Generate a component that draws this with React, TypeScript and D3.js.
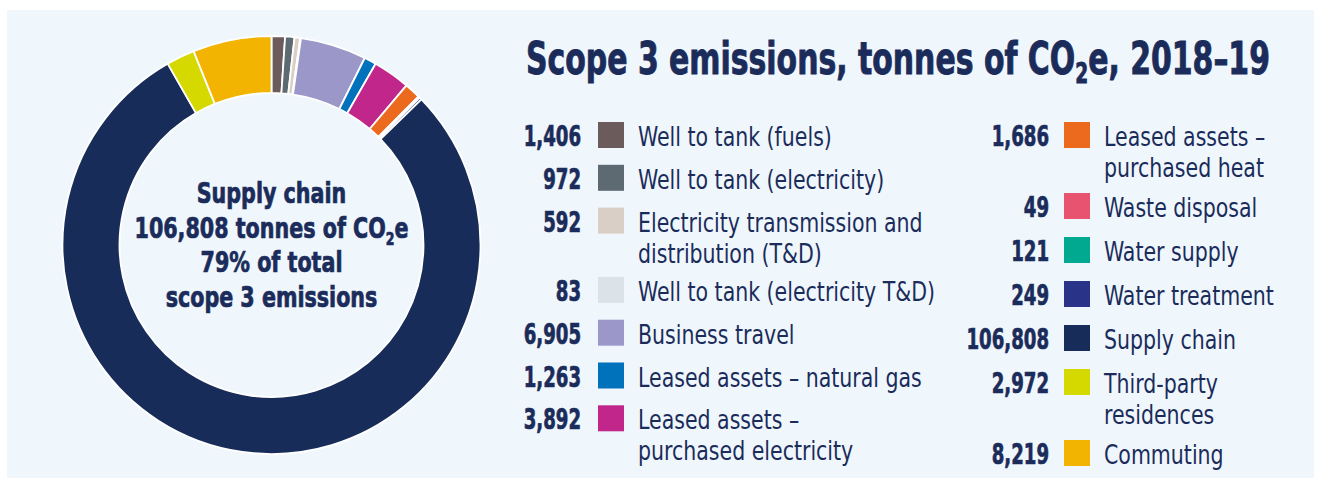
import React, { useLayoutEffect, useRef, useState } from 'react';
import * as d3 from 'd3';

// Scope 3 emissions by source, tonnes CO2e (2018-19)
const categories = [
  'Well to tank (fuels)',
  'Well to tank (electricity)',
  'Electricity transmission and\ndistribution (T&D)',
  'Well to tank (electricity T&D)',
  'Business travel',
  'Leased assets – natural gas',
  'Leased assets –\npurchased electricity',
  'Leased assets –\npurchased heat',
  'Waste disposal',
  'Water supply',
  'Water treatment',
  'Supply chain',
  'Third-party\nresidences',
  'Commuting',
];
const emissions = [1406, 972, 592, 83, 6905, 1263, 3892, 1686, 49, 121, 249, 106808, 2972, 8219];
const colors = [
  '#6c5b5b', '#5e6a72', '#d9cfc6', '#dbe3e9', '#9b97c9', '#0071bb', '#c1278a',
  '#ec6a1e', '#e8536f', '#00a98f', '#293388', '#182c59', '#d5d900', '#f2b301',
];
const highlight = 'Supply chain';

const NAVY = '#1b2c5a';
const NARROW = '"Liberation Sans Narrow", "DejaVu Sans Condensed", Roboto, sans-serif';
const fmt = d3.format(',');

// DejaVu Condensed is still wider than the report's typeface, so squeeze horizontally
const LABEL_K = 0.845;
const NUM_K = 0.72;
const CENTER_K = 0.82;
const TITLE_W = 744;

function Legend({ items, numX, swX, labelX, top, step, extra }) {
  let y = top;
  return (
    <g>
      {items.map((d) => {
        const lines = d.label.split('\n');
        const cy = y;
        y += step + (lines.length - 1) * extra;
        return (
          <g key={d.label}>
            <text transform={`translate(${numX},${cy + 11}) scale(${NUM_K},1)`} textAnchor="end"
              fontFamily={NARROW} fontWeight={700} fontSize={28} fill={NAVY}
              stroke={NAVY} strokeWidth={0.7}>{fmt(d.value)}</text>
            <rect x={swX} y={cy - 13} width={26} height={26} fill={d.color} />
            <text transform={`translate(${labelX},${cy + 11}) scale(${LABEL_K},1)`}
              fontFamily={NARROW} fontSize={27} fill={NAVY}>
              {lines.map((l, i) => (
                <tspan key={i} x={0} dy={i === 0 ? 0 : 31}>{l}</tspan>
              ))}
            </text>
          </g>
        );
      })}
    </g>
  );
}

export default function App() {
  const titleRef = useRef(null);
  const [titleK, setTitleK] = useState(0.9);

  useLayoutEffect(() => {
    const w = titleRef.current.getBBox().width;
    if (w > 0) setTitleK(TITLE_W / w);
  }, []);

  const cx = 271.5, cy = 245;
  const pie = d3.pie<number>().sort(null).value((d) => d)(emissions);
  const arc = d3.arc<d3.PieArcDatum<number>>().innerRadius(152).outerRadius(209);

  const total = d3.sum(emissions);
  const hi = categories.indexOf(highlight);
  const pct = Math.round((emissions[hi] / total) * 100);

  const items = categories.map((label, i) => ({ label, value: emissions[i], color: colors[i] }));

  return (
    <div style={{ position: 'absolute', left: 0, top: 0 }}>
      <svg width={1321} height={486} style={{ display: 'block' }}>
        <rect x={0} y={0} width={1321} height={486} fill="#ffffff" />
        <rect x={7} y={10} width={1307} height={468} fill="#eff7fd" />

        <g transform={`translate(${cx},${cy})`}>
          {pie.map((p, i) => (
            <path key={i} d={arc(p) || ''} fill={colors[i]} stroke="#ffffff" strokeWidth={1.8}
              strokeLinejoin="round" />
          ))}
          <g transform={`scale(${CENTER_K},1)`} fontFamily={NARROW} fontWeight={700} fontSize={28}
            fill={NAVY} stroke={NAVY} strokeWidth={0.7} textAnchor="middle">
            <text y={-42}>{highlight}</text>
            <text y={-7}>
              {fmt(emissions[hi])} tonnes of CO
              <tspan fontSize={17} dy={7}>2</tspan>
              <tspan dy={-7}>e</tspan>
            </text>
            <text y={27}>{pct}% of total</text>
            <text y={62}>scope 3 emissions</text>
          </g>
        </g>

        <g transform={`translate(526,74) scale(${titleK},1)`}>
          <text ref={titleRef} fontFamily={NARROW} fontWeight={700} fontSize={45} fill={NAVY}
            stroke={NAVY} strokeWidth={0.9}>
            Scope 3 emissions, tonnes of CO
            <tspan fontSize={28} dy={9}>2</tspan>
            <tspan dy={-9}>e, 2018–19</tspan>
          </text>
        </g>

        <Legend items={items.slice(0, 7)} numX={581} swX={598} labelX={638} top={135} step={42.8} extra={26.5} />
        <Legend items={items.slice(7)} numX={1049} swX={1064} labelX={1104} top={135} step={44} extra={27} />
      </svg>
    </div>
  );
}
